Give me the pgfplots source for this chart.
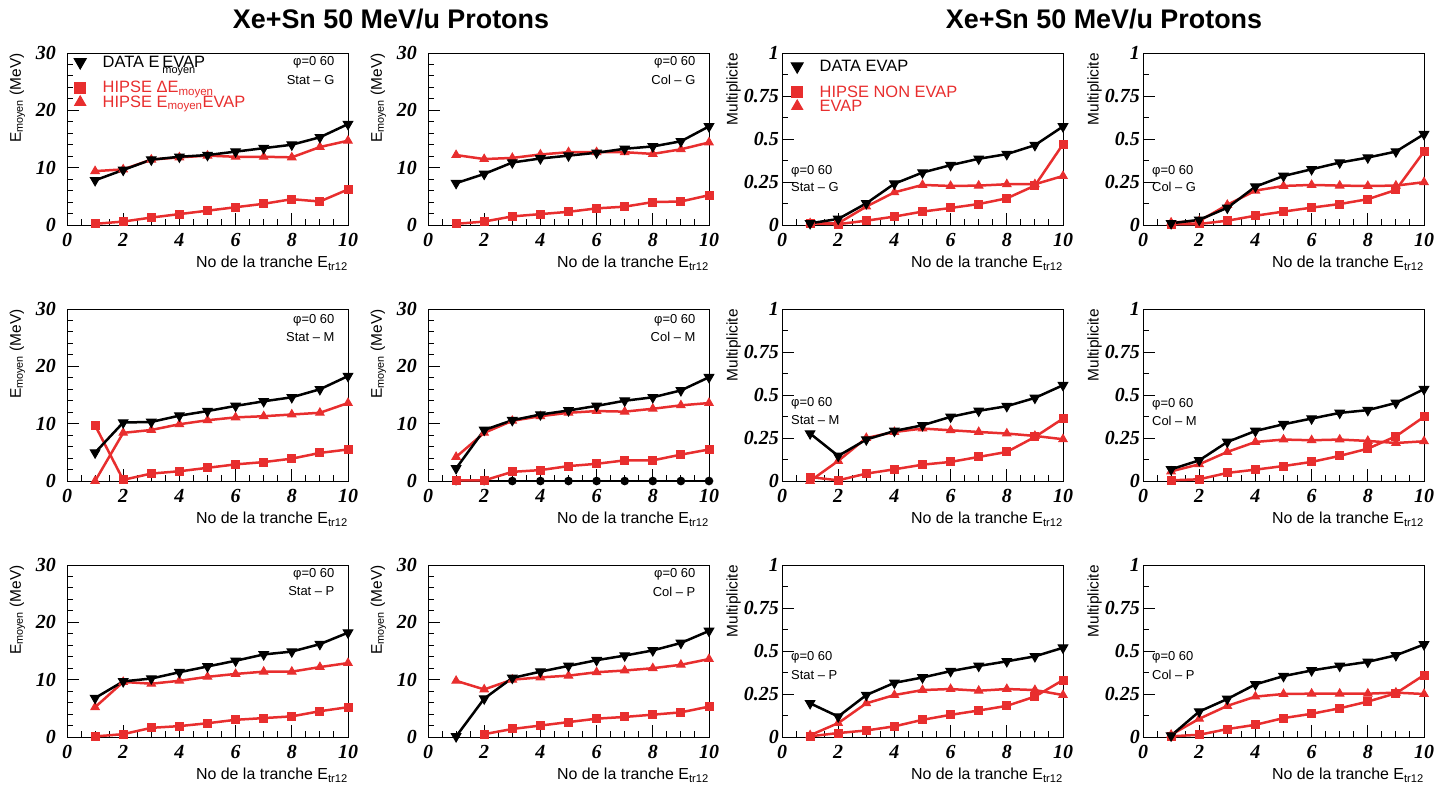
\documentclass[border=0pt]{standalone}
\usepackage{fontspec}
\setmainfont{Liberation Sans}
\newfontfamily\tickfont{Liberation Serif}
\usepackage{pgfplots}
\pgfplotsset{compat=1.18}
\definecolor{rootred}{RGB}{232,46,46}
\newcommand\fs[1]{\fontsize{#1}{#1}\selectfont}
\pgfplotsset{
 base/.style={scale only axis, width=281bp, height=172bp, anchor=south west,
  xmin=0, xmax=10, xtick={0,2,4,6,8,10}, xticklabels={0,2,4,6,8,10},
  minor x tick num=3, tick align=inside, xtick pos=left, ytick pos=left,
  major tick length=12bp, minor tick length=6bp,
  axis line style={line width=1bp}, every tick/.style={black, line width=1bp},
  tick label style={font=\tickfont\bfseries\itshape\fs{20}},
  xticklabel style={inner sep=0pt, yshift=-8bp},
  xlabel={No de la tranche E\textsubscript{tr12}},
  xlabel style={at={(axis description cs:1,0)}, anchor=north east, inner sep=0pt, yshift=-31bp, font=\fs{16}},
  ylabel style={anchor=south east, inner sep=0pt, font=\fs{15.5}},
 },
 epanel/.style={base, ymin=0, ymax=30, ytick={0,10,20,30}, yticklabels={0,10,20,30}, minor y tick num=4,
  ylabel={E\textsubscript{moyen} (MeV)}, yticklabel style={inner sep=0pt, xshift=-11bp},
  ylabel style={at={(axis description cs:-0.148,1)}}},
 mpanel/.style={base, ymin=0, ymax=1, ytick={0,0.25,0.5,0.75,1}, yticklabels={0,0.25,0.5,0.75,1}, minor y tick num=1,
  ylabel={Multiplicite}, yticklabel style={inner sep=0pt, xshift=-3bp},
  ylabel style={at={(axis description cs:-0.146,1)}}},
 blk/.style={black, line width=2.5bp, mark=triangle*, mark size=5.5bp, mark options={rotate=180, solid, fill=black, line width=1bp}},
 rsq/.style={rootred, line width=2.5bp, mark=square*, mark size=4bp, mark options={solid, fill=rootred, line width=1bp}},
 rtri/.style={rootred, line width=2.5bp, mark=triangle*, mark size=4.8bp, mark options={solid, fill=rootred, line width=1bp}},
 leg/.style 2 args={legend style={at={(axis description cs:#1,#2)}, anchor=north west, draw=none, fill=none,
  inner sep=0pt, font=\fs{16.5}, row sep=2.5bp, column sep=15bp, nodes={inner sep=0.5bp}}, legend cell align=left},
 limg1/.style={legend image code/.code={\path[draw=none, fill=none] (0,6bp) rectangle (14bp,-17.7bp); \draw[##1] plot coordinates {(7bp,0bp)};}},
 limg2/.style={legend image code/.code={\path[draw=none, fill=none] (0,4bp) rectangle (14bp,-4bp); \draw[##1] plot coordinates {(7bp,0bp)};}},
}
\newcommand\lt[1]{\raisebox{-5.8bp}[0pt][0pt]{#1}}
\newcommand\ean[3]{\node[anchor=east, font=\fs{13}] at (axis cs:9.64,#3) {φ=0 60};
 \node[anchor=east, font=\fs{13}] at (axis cs:9.64,#3-3) {#1 -- #2};}
\newcommand\man[4]{\node[anchor=west, font=\fs{13}] at (axis cs:0.2,#3) {φ=0 60};
 \node[anchor=west, font=\fs{13}] at (axis cs:0.2,#4) {#1 -- #2};}
\begin{document}
\begin{tikzpicture}
\path[use as bounding box] (0,0) rectangle (1450bp,-794bp);
\node[font=\fs{27}\bfseries] at (391bp,-19bp) {Xe+Sn 50 MeV/u Protons};
\node[font=\fs{27}\bfseries] at (1104bp,-19bp) {Xe+Sn 50 MeV/u Protons};

% ---------- Row 1 ----------
\begin{axis}[epanel, leg={0.0214}{0.983}, at={(67bp,-225bp)}]
\addlegendimage{blk, limg1, mark size=6.9bp}
\addlegendentry{\lt{DATA E\,\rlap{\raisebox{-6bp}{\fs{11}moyen}}EVAP}}
\addlegendimage{rsq, limg2, mark size=5.5bp}
\addlegendentry{\lt{\textcolor{rootred}{HIPSE ΔE\textsubscript{moyen}}}}
\addlegendimage{rtri, limg2, mark size=6.3bp}
\addlegendentry{\lt{\textcolor{rootred}{HIPSE E\textsubscript{moyen}EVAP}}}
\addplot[rsq, forget plot] coordinates {(1,0.2)(2,0.6)(3,1.3)(4,1.9)(5,2.5)(6,3.1)(7,3.7)(8,4.5)(9,4.1)(10,6.2)};
\addplot[rtri, forget plot] coordinates {(1,9.4)(2,9.7)(3,11.4)(4,11.8)(5,12.1)(6,11.9)(7,11.9)(8,11.8)(9,13.6)(10,14.7)};
\addplot[blk, forget plot] coordinates {(1,7.8)(2,9.6)(3,11.4)(4,11.9)(5,12.2)(6,12.8)(7,13.4)(8,14.0)(9,15.3)(10,17.6)};
\ean{Stat}{G}{28.3}
\end{axis}

\begin{axis}[epanel, at={(428bp,-225bp)}]
\addplot[rsq] coordinates {(1,0.2)(2,0.6)(3,1.5)(4,1.9)(5,2.3)(6,2.9)(7,3.2)(8,4.0)(9,4.1)(10,5.2)};
\addplot[rtri] coordinates {(1,12.2)(2,11.5)(3,11.7)(4,12.3)(5,12.7)(6,12.7)(7,12.7)(8,12.4)(9,13.2)(10,14.4)};
\addplot[blk] coordinates {(1,7.3)(2,8.9)(3,10.9)(4,11.6)(5,12.1)(6,12.6)(7,13.3)(8,13.7)(9,14.6)(10,17.2)};
\ean{Col}{G}{28.3}
\end{axis}

\begin{axis}[mpanel, leg={0.0285}{0.959}, at={(782bp,-225bp)}]
\addlegendimage{blk, limg1, mark size=6.9bp}
\addlegendentry{\lt{DATA EVAP}}
\addlegendimage{rsq, limg2, mark size=5.5bp}
\addlegendentry{\lt{\textcolor{rootred}{HIPSE NON EVAP}}}
\addlegendimage{rtri, limg2, mark size=6.3bp}
\addlegendentry{\lt{\textcolor{rootred}{EVAP}}}
\addplot[rsq, forget plot] coordinates {(1,0.01)(2,0.005)(3,0.025)(4,0.049)(5,0.078)(6,0.099)(7,0.122)(8,0.155)(9,0.229)(10,0.47)};
\addplot[rtri, forget plot] coordinates {(1,0.01)(2,0.01)(3,0.107)(4,0.19)(5,0.233)(6,0.227)(7,0.229)(8,0.237)(9,0.237)(10,0.285)};
\addplot[blk, forget plot] coordinates {(1,0.01)(2,0.035)(3,0.126)(4,0.24)(5,0.305)(6,0.348)(7,0.385)(8,0.412)(9,0.464)(10,0.573)};
\man{Stat}{G}{0.314}{0.221}
\end{axis}

\begin{axis}[mpanel, at={(1143bp,-225bp)}]
\addplot[rsq] coordinates {(1,0.004)(2,0.006)(3,0.025)(4,0.054)(5,0.078)(6,0.101)(7,0.122)(8,0.15)(9,0.204)(10,0.427)};
\addplot[rtri] coordinates {(1,0.014)(2,0.023)(3,0.117)(4,0.2)(5,0.227)(6,0.233)(7,0.229)(8,0.227)(9,0.229)(10,0.249)};
\addplot[blk] coordinates {(1,0.01)(2,0.03)(3,0.10)(4,0.223)(5,0.285)(6,0.324)(7,0.363)(8,0.392)(9,0.427)(10,0.528)};
\man{Col}{G}{0.314}{0.221}
\end{axis}

% ---------- Row 2 ----------
\begin{axis}[epanel, at={(67bp,-481bp)}]
\addplot[rsq] coordinates {(1,9.7)(2,0.2)(3,1.3)(4,1.7)(5,2.3)(6,2.9)(7,3.3)(8,3.9)(9,4.9)(10,5.5)};
\addplot[rtri] coordinates {(1,0)(2,8.4)(3,8.9)(4,9.9)(5,10.6)(6,11.1)(7,11.3)(8,11.6)(9,11.9)(10,13.6)};
\addplot[blk] coordinates {(1,4.95)(2,10.2)(3,10.3)(4,11.4)(5,12.2)(6,13.1)(7,13.9)(8,14.6)(9,16.0)(10,18.3)};
\ean{Stat}{M}{28.1}
\end{axis}

\begin{axis}[epanel, at={(428bp,-481bp)}]
\addplot[black, line width=2.5bp, mark=*, mark size=3bp] coordinates {(1,0)(2,0)(3,0)(4,0)(5,0)(6,0)(7,0)(8,0)(9,0)(10,0)};
\addplot[rsq] coordinates {(1,0.1)(2,0.1)(3,1.6)(4,1.9)(5,2.6)(6,3.0)(7,3.6)(8,3.6)(9,4.6)(10,5.5)};
\addplot[rtri] coordinates {(1,4.2)(2,8.4)(3,10.5)(4,11.3)(5,11.9)(6,12.2)(7,12.1)(8,12.6)(9,13.2)(10,13.6)};
\addplot[blk] coordinates {(1,2.2)(2,8.9)(3,10.6)(4,11.6)(5,12.3)(6,13.1)(7,14.0)(8,14.6)(9,15.8)(10,18.1)};
\ean{Col}{M}{28.1}
\end{axis}

\begin{axis}[mpanel, at={(782bp,-481bp)}]
\addplot[rsq] coordinates {(1,0.023)(2,0.004)(3,0.043)(4,0.068)(5,0.095)(6,0.111)(7,0.14)(8,0.169)(9,0.256)(10,0.363)};
\addplot[rtri] coordinates {(1,0)(2,0.117)(3,0.25)(4,0.285)(5,0.305)(6,0.295)(7,0.285)(8,0.276)(9,0.262)(10,0.243)};
\addplot[blk] coordinates {(1,0.276)(2,0.146)(3,0.241)(4,0.291)(5,0.324)(6,0.373)(7,0.408)(8,0.435)(9,0.483)(10,0.557)};
\man{Stat}{M}{0.453}{0.355}
\end{axis}

\begin{axis}[mpanel, at={(1143bp,-481bp)}]
\addplot[rsq] coordinates {(1,0.004)(2,0.01)(3,0.047)(4,0.066)(5,0.087)(6,0.111)(7,0.146)(8,0.188)(9,0.26)(10,0.373)};
\addplot[rtri] coordinates {(1,0.056)(2,0.097)(3,0.169)(4,0.227)(5,0.241)(6,0.237)(7,0.241)(8,0.233)(9,0.221)(10,0.231)};
\addplot[blk] coordinates {(1,0.068)(2,0.12)(3,0.227)(4,0.291)(5,0.33)(6,0.363)(7,0.396)(8,0.412)(9,0.454)(10,0.534)};
\man{Col}{M}{0.445}{0.35}
\end{axis}

% ---------- Row 3 ----------
\begin{axis}[epanel, at={(67bp,-737bp)}]
\addplot[rsq] coordinates {(1,0.1)(2,0.5)(3,1.6)(4,1.9)(5,2.4)(6,3.0)(7,3.3)(8,3.6)(9,4.5)(10,5.2)};
\addplot[rtri] coordinates {(1,5.2)(2,9.6)(3,9.3)(4,9.8)(5,10.5)(6,11.0)(7,11.4)(8,11.4)(9,12.2)(10,12.9)};
\addplot[blk] coordinates {(1,6.8)(2,9.7)(3,10.2)(4,11.3)(5,12.3)(6,13.3)(7,14.4)(8,14.9)(9,16.2)(10,18.2)};
\ean{Stat}{P}{28.4}
\end{axis}

\begin{axis}[epanel, at={(428bp,-737bp)}]
\addplot[rsq] coordinates {(2,0.5)(3,1.4)(4,2.0)(5,2.6)(6,3.2)(7,3.5)(8,3.9)(9,4.3)(10,5.3)};
\addplot[rtri] coordinates {(1,9.8)(2,8.3)(3,10.0)(4,10.4)(5,10.7)(6,11.3)(7,11.6)(8,12.0)(9,12.6)(10,13.6)};
\addplot[blk] coordinates {(1,0.1)(2,6.7)(3,10.3)(4,11.4)(5,12.4)(6,13.4)(7,14.2)(8,15.1)(9,16.4)(10,18.5)};
\ean{Col}{P}{28.4}
\end{axis}

\begin{axis}[mpanel, at={(782bp,-737bp)}]
\addplot[rsq] coordinates {(1,0.004)(2,0.023)(3,0.038)(4,0.062)(5,0.1)(6,0.129)(7,0.154)(8,0.181)(9,0.235)(10,0.331)};
\addplot[rtri] coordinates {(1,0.01)(2,0.081)(3,0.196)(4,0.244)(5,0.273)(6,0.279)(7,0.269)(8,0.279)(9,0.273)(10,0.244)};
\addplot[blk] coordinates {(1,0.196)(2,0.119)(3,0.244)(4,0.315)(5,0.346)(6,0.383)(7,0.413)(8,0.44)(9,0.469)(10,0.519)};
\man{Stat}{P}{0.465}{0.36}
\end{axis}

\begin{axis}[mpanel, at={(1143bp,-737bp)}]
\addplot[rsq] coordinates {(1,0.004)(2,0.013)(3,0.046)(4,0.071)(5,0.11)(6,0.135)(7,0.167)(8,0.206)(9,0.254)(10,0.36)};
\addplot[rtri] coordinates {(1,0.013)(2,0.106)(3,0.181)(4,0.235)(5,0.25)(6,0.252)(7,0.252)(8,0.252)(9,0.258)(10,0.25)};
\addplot[blk] coordinates {(1,0.008)(2,0.148)(3,0.221)(4,0.306)(5,0.354)(6,0.387)(7,0.413)(8,0.437)(9,0.475)(10,0.538)};
\man{Col}{P}{0.465}{0.36}
\end{axis}
\end{tikzpicture}
\end{document}
